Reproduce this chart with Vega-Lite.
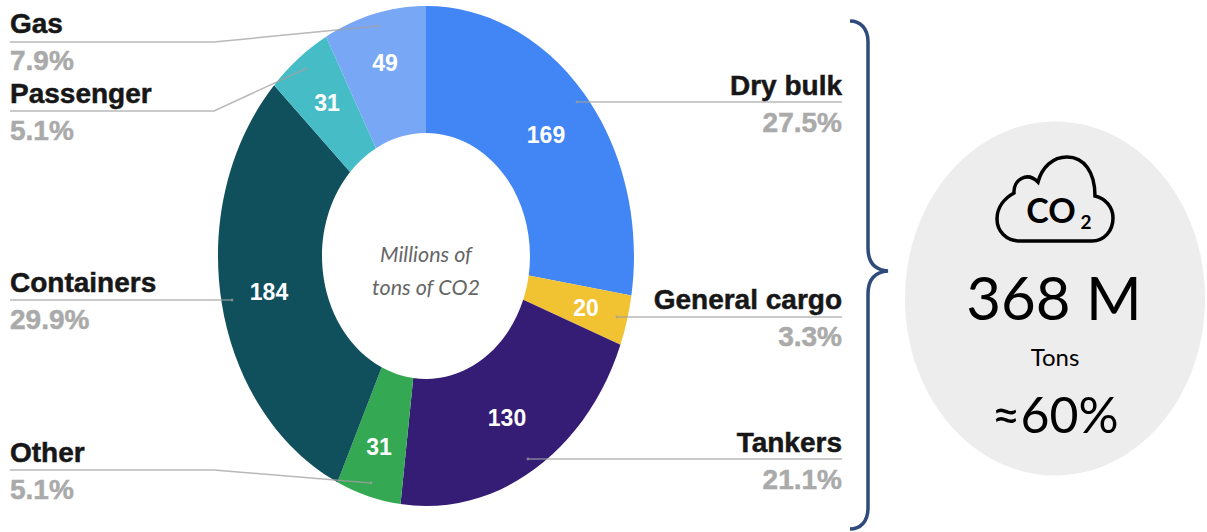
{
  "$schema": "https://vega.github.io/schema/vega-lite/v6.json",
  "width": 1207,
  "height": 532,
  "padding": 0,
  "autosize": "none",
  "background": "white",
  "config": {"view": {"stroke": null}},
  "data": {"values": [
    {"segment": "Dry bulk", "rank": 1, "value": 169, "share": "27.5%", "side": "right"},
    {"segment": "General cargo", "rank": 2, "value": 20, "share": "3.3%", "side": "right"},
    {"segment": "Tankers", "rank": 3, "value": 130, "share": "21.1%", "side": "right"},
    {"segment": "Other", "rank": 4, "value": 31, "share": "5.1%", "side": "left"},
    {"segment": "Containers", "rank": 5, "value": 184, "share": "29.9%", "side": "left"},
    {"segment": "Passenger", "rank": 6, "value": 31, "share": "5.1%", "side": "left"},
    {"segment": "Gas", "rank": 7, "value": 49, "share": "7.9%", "side": "left"}
  ]},
  "transform": [
    {"stack": "value", "groupby": [], "sort": [{"field": "rank", "order": "ascending"}], "as": ["v0", "v1"]},
    {"joinaggregate": [{"op": "sum", "field": "value", "as": "total"}]},
    {"calculate": "2*PI*datum.v0/datum.total", "as": "a0"},
    {"calculate": "2*PI*datum.v1/datum.total", "as": "a1"},
    {"calculate": "'M'+round(20800*sin(datum.a0))/100+','+round(-25000*cos(datum.a0))/100+'A208,250 0 '+(datum.a1-datum.a0>PI?1:0)+' 1 '+round(20800*sin(datum.a1))/100+','+round(-25000*cos(datum.a1))/100+'L'+round(10400*sin(datum.a1))/100+','+round(-12300*cos(datum.a1))/100+'A104,123 0 '+(datum.a1-datum.a0>PI?1:0)+' 0 '+round(10400*sin(datum.a0))/100+','+round(-12300*cos(datum.a0))/100+'Z'", "as": "wedge"},
    {"calculate": "[95,309,452,462,292,103,33][datum.rank-1]", "as": "nameY"},
    {"calculate": "datum.side=='left'?10:842", "as": "nameX"},
    {"calculate": "[546,586,507,379,269,327,385][datum.rank-1]", "as": "valueX"},
    {"calculate": "[135,308,418,447,292,103,63][datum.rank-1]", "as": "valueY"}
  ],
  "layer": [
    {
      "description": "Grey disc behind the total",
      "data": {"values": [{"part": "disc"}]},
      "transform": [],
      "mark": {"type": "point", "filled": true, "opacity": 1, "size": 4, "fill": "#ededed", "strokeWidth": 0,
        "shape": "M-150,0A150,177 0 1 1 150,0A150,177 0 1 1 -150,0Z"},
      "encoding": {
        "x": {"datum": 1055, "type": "quantitative", "scale": {"domain": [0, 1207]}, "axis": null},
        "y": {"datum": 298.5, "type": "quantitative", "scale": {"domain": [532, 0]}, "axis": null}
      }
    },
    {
      "description": "Brace and cloud outline",
      "data": {"values": [{"part": "brace"}]},
      "transform": [],
      "mark": {"type": "point", "filled": false, "opacity": 1, "size": 4, "fill": null, "stroke": "#2f4b7c", "strokeWidth": 3.5,
        "shape": "M850,21C860,21 868,28 868,42L868,248C868,262 874,270 888,271C874,272 868,280 868,294L868,508C868,522 860,529 850,529"},
      "encoding": {
        "x": {"datum": 0, "type": "quantitative", "scale": {"domain": [0, 1207]}, "axis": null},
        "y": {"datum": 0, "type": "quantitative", "scale": {"domain": [532, 0]}, "axis": null}
      }
    },
    {
      "data": {"values": [{"part": "cloud"}]},
      "transform": [],
      "mark": {"type": "point", "filled": false, "opacity": 1, "size": 4, "fill": null, "stroke": "#000000", "strokeWidth": 3.5,
        "shape": "M1020,241C1006,241 997,231 997,219C997,207 1005,198 1014,193C1013,180 1027,171 1038,182C1042,167 1053,157 1067,157C1084,157 1095,172 1095,196C1105,198 1113,207 1113,218C1113,231 1104,241 1092,241Z"},
      "encoding": {
        "x": {"datum": 0, "type": "quantitative", "scale": {"domain": [0, 1207]}, "axis": null},
        "y": {"datum": 0, "type": "quantitative", "scale": {"domain": [532, 0]}, "axis": null}
      }
    },
    {
      "description": "Donut wedges, each path derived from the stacked tonnage",
      "mark": {"type": "point", "filled": true, "opacity": 1, "size": 4, "strokeWidth": 0},
      "encoding": {
        "x": {"datum": 426, "type": "quantitative", "scale": {"domain": [0, 1207]}, "axis": null},
        "y": {"datum": 256, "type": "quantitative", "scale": {"domain": [532, 0]}, "axis": null},
        "shape": {"field": "wedge", "type": "nominal", "scale": null},
        "fill": {"field": "segment", "type": "nominal", "legend": null, "scale": {
          "domain": ["Dry bulk", "General cargo", "Tankers", "Other", "Containers", "Passenger", "Gas"],
          "range": ["#4285f4", "#f1c232", "#351c75", "#34a853", "#10505c", "#46bdc6", "#78a7f6"]}}
      }
    },
    {
      "description": "Leader lines from each label into its wedge, ending in a small dot",
      "mark": {"type": "point", "filled": false, "opacity": 0.75, "size": 4, "fill": null, "stroke": "#a0a0a0", "strokeWidth": 1.5},
      "encoding": {
        "x": {"datum": 0, "type": "quantitative", "scale": {"domain": [0, 1207]}, "axis": null},
        "y": {"datum": 0, "type": "quantitative", "scale": {"domain": [532, 0]}, "axis": null},
        "shape": {"field": "segment", "type": "nominal", "legend": null, "scale": {
          "domain": ["Dry bulk", "General cargo", "Tankers", "Other", "Containers", "Passenger", "Gas"],
          "range": [
            "M842,102L577,102m-0.7,0a0.7,0.7 0 1 0 1.4,0a0.7,0.7 0 1 0 -1.4,0",
            "M842,317L617,317m-0.7,0a0.7,0.7 0 1 0 1.4,0a0.7,0.7 0 1 0 -1.4,0",
            "M842,459L528,459m-0.7,0a0.7,0.7 0 1 0 1.4,0a0.7,0.7 0 1 0 -1.4,0",
            "M10,470L214,470L371,483m-0.7,0a0.7,0.7 0 1 0 1.4,0a0.7,0.7 0 1 0 -1.4,0",
            "M10,300L232,300m-0.7,0a0.7,0.7 0 1 0 1.4,0a0.7,0.7 0 1 0 -1.4,0",
            "M10,111L214,111L305,69m-0.7,0a0.7,0.7 0 1 0 1.4,0a0.7,0.7 0 1 0 -1.4,0",
            "M10,42L214,42L378,26m-0.7,0a0.7,0.7 0 1 0 1.4,0a0.7,0.7 0 1 0 -1.4,0"
          ]}}
      }
    },
    {
      "description": "Segment names on the left",
      "transform": [{"filter": "datum.side=='left'"}],
      "mark": {"type": "text", "align": "left", "baseline": "alphabetic", "font": "Liberation Sans", "fontWeight": "bold", "fontSize": 28, "fill": "#171717", "stroke": "#171717", "strokeWidth": 0.5},
      "encoding": {
        "x": {"field": "nameX", "type": "quantitative", "scale": {"domain": [0, 1207]}, "axis": null},
        "y": {"field": "nameY", "type": "quantitative", "scale": {"domain": [532, 0]}, "axis": null},
        "text": {"field": "segment"}
      }
    },
    {
      "description": "Segment names on the right",
      "transform": [{"filter": "datum.side=='right'"}],
      "mark": {"type": "text", "align": "right", "baseline": "alphabetic", "font": "Liberation Sans", "fontWeight": "bold", "fontSize": 28, "fill": "#171717", "stroke": "#171717", "strokeWidth": 0.5},
      "encoding": {
        "x": {"field": "nameX", "type": "quantitative", "scale": {"domain": [0, 1207]}, "axis": null},
        "y": {"field": "nameY", "type": "quantitative", "scale": {"domain": [532, 0]}, "axis": null},
        "text": {"field": "segment"}
      }
    },
    {
      "description": "Shares on the left",
      "transform": [{"filter": "datum.side=='left'"}],
      "mark": {"type": "text", "align": "left", "baseline": "alphabetic", "font": "Liberation Sans", "fontWeight": "bold", "fontSize": 28, "fill": "#aaaaaa", "stroke": "#aaaaaa", "strokeWidth": 0.5, "yOffset": 37},
      "encoding": {
        "x": {"field": "nameX", "type": "quantitative", "scale": {"domain": [0, 1207]}, "axis": null},
        "y": {"field": "nameY", "type": "quantitative", "scale": {"domain": [532, 0]}, "axis": null},
        "text": {"field": "share"}
      }
    },
    {
      "description": "Shares on the right",
      "transform": [{"filter": "datum.side=='right'"}],
      "mark": {"type": "text", "align": "right", "baseline": "alphabetic", "font": "Liberation Sans", "fontWeight": "bold", "fontSize": 28, "fill": "#aaaaaa", "stroke": "#aaaaaa", "strokeWidth": 0.5, "yOffset": 37},
      "encoding": {
        "x": {"field": "nameX", "type": "quantitative", "scale": {"domain": [0, 1207]}, "axis": null},
        "y": {"field": "nameY", "type": "quantitative", "scale": {"domain": [532, 0]}, "axis": null},
        "text": {"field": "share"}
      }
    },
    {
      "description": "Tonnage printed on each wedge",
      "mark": {"type": "text", "align": "center", "baseline": "middle", "dy": 1, "font": "Liberation Sans", "fontWeight": "bold", "fontSize": 23, "fill": "#ffffff"},
      "encoding": {
        "x": {"field": "valueX", "type": "quantitative", "scale": {"domain": [0, 1207]}, "axis": null},
        "y": {"field": "valueY", "type": "quantitative", "scale": {"domain": [532, 0]}, "axis": null},
        "text": {"field": "value", "type": "quantitative"}
      }
    },
    {
      "description": "Caption in the donut hole",
      "data": {"values": [{"line": "Millions of", "n": 0}, {"line": "tons of CO2", "n": 1}]},
      "transform": [
        {"calculate": "426", "as": "px"},
        {"calculate": "[262,295][datum.n]", "as": "py"}
      ],
      "mark": {"type": "text", "align": "center", "baseline": "alphabetic", "font": "Lato", "fontStyle": "italic", "fontSize": 21.5, "fill": "#666666"},
      "encoding": {
        "x": {"field": "px", "type": "quantitative", "scale": {"domain": [0, 1207]}, "axis": null},
        "y": {"field": "py", "type": "quantitative", "scale": {"domain": [532, 0]}, "axis": null},
        "text": {"field": "line"}
      }
    },
    {
      "description": "Total panel text",
      "data": {"values": [{"note": "368 M", "n": 0}, {"note": "Tons", "n": 1}, {"note": "≈60%", "n": 2}]},
      "transform": [
        {"calculate": "[1054,1055,1055][datum.n]", "as": "px"},
        {"calculate": "[320,366,433][datum.n]", "as": "py"},
        {"calculate": "[60,24,50][datum.n]", "as": "fs"}
      ],
      "mark": {"type": "text", "align": "center", "baseline": "alphabetic", "font": "Lato", "fill": "#000000"},
      "encoding": {
        "x": {"field": "px", "type": "quantitative", "scale": {"domain": [0, 1207]}, "axis": null},
        "y": {"field": "py", "type": "quantitative", "scale": {"domain": [532, 0]}, "axis": null},
        "size": {"field": "fs", "type": "quantitative", "scale": null},
        "text": {"field": "note"}
      }
    },
    {
      "description": "CO2 inside the cloud",
      "data": {"values": [{"note": "CO", "n": 0}, {"note": "2", "n": 1}]},
      "transform": [
        {"calculate": "[1051,1086][datum.n]", "as": "px"},
        {"calculate": "[223,229][datum.n]", "as": "py"},
        {"calculate": "[34,19][datum.n]", "as": "fs"}
      ],
      "mark": {"type": "text", "align": "center", "baseline": "alphabetic", "font": "Lato", "fontWeight": "bold", "fill": "#000000"},
      "encoding": {
        "x": {"field": "px", "type": "quantitative", "scale": {"domain": [0, 1207]}, "axis": null},
        "y": {"field": "py", "type": "quantitative", "scale": {"domain": [532, 0]}, "axis": null},
        "size": {"field": "fs", "type": "quantitative", "scale": null},
        "text": {"field": "note"}
      }
    }
  ]
}
